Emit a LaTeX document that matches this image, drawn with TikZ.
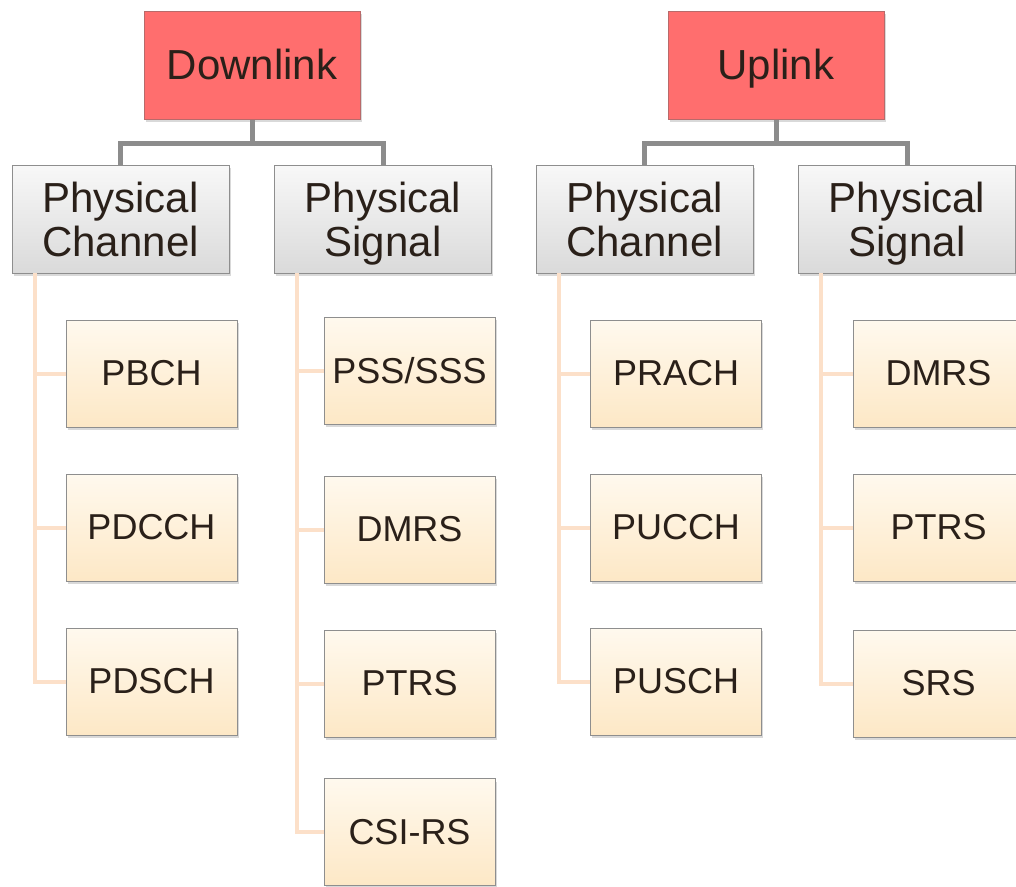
\documentclass[tikz,border=0pt]{standalone}
\usepackage{fontspec}
\setmainfont{Liberation Sans}
\usetikzlibrary{shadows}
\definecolor{txt}{HTML}{2A2019}
\definecolor{redfill}{HTML}{FF6E6E}
\definecolor{redline}{HTML}{B86A6A}
\definecolor{graytop}{HTML}{F8F8F8}
\definecolor{graybot}{HTML}{DADADA}
\definecolor{grayline}{HTML}{8C8C8C}
\definecolor{leaftop}{HTML}{FFF9EE}
\definecolor{leafbot}{HTML}{FDE8C6}
\definecolor{leafline}{HTML}{FCE0C9}
\definecolor{boxline}{HTML}{8E8E8E}
\newcommand{\hdstrut}{\rule{0pt}{39pt}}
\tikzset{
  every node/.style={text=txt},
  boxshadow/.style={drop shadow={shadow xshift=1.5pt, shadow yshift=-3pt, opacity=0.3}},
  rootbox/.style={draw=redline, line width=1pt, fill=redfill, minimum width=216pt, minimum height=108pt, inner sep=0pt,
    font=\fontsize{42}{44}\selectfont, boxshadow,
    execute at begin node={\rule{0pt}{36.8pt}}, execute at end node={\vphantom{p}}},
  midbox/.style={draw=boxline, line width=1pt, top color=graytop, bottom color=graybot, minimum width=217pt, minimum height=108pt, inner sep=0pt,
    align=center, font=\fontsize{42}{44}\selectfont, boxshadow,
    execute at end node={\vphantom{g}}},
  leafbox/.style={draw=boxline, line width=1pt, top color=leaftop, bottom color=leafbot, minimum width=171pt, minimum height=107pt, inner sep=0pt,
    font=\fontsize{36}{40}\selectfont, boxshadow},
  topline/.style={draw=grayline, line width=5pt},
  branch/.style={draw=leafline, line width=4pt},
}
\begin{document}
\begin{tikzpicture}[x=1pt,y=-1pt]
\useasboundingbox (0,0) rectangle (1016,886);
\clip (0,0) rectangle (1016,886);
% top-level
\node[rootbox] (dl) at (252,65) {Downlink};
\node[rootbox] (ul) at (776,65) {Uplink};
% second level
\node[midbox] (dlc) at (120.5,219) {\hdstrut Physical\\Channel};
\node[midbox] (dls) at (383,219) {\hdstrut Physical\\Signal};
\node[midbox] (ulc) at (644.5,219) {\hdstrut Physical\\Channel};
\node[midbox] (uls) at (907,219) {\hdstrut Physical\\Signal};
% leaves
\node[leafbox] (pbch) at (151.5,373.5) {PBCH};
\node[leafbox] (pdcch) at (151.5,527.5) {PDCCH};
\node[leafbox] (pdsch) at (151.5,681.5) {PDSCH};
\node[leafbox] (pss) at (409.5,370.5) {PSS/SSS};
\node[leafbox] (dldmrs) at (409.5,529.5) {DMRS};
\node[leafbox] (dlptrs) at (409.5,683.5) {PTRS};
\node[leafbox] (csirs) at (409.5,832) {CSI-RS};
\node[leafbox] (prach) at (676,373.5) {PRACH};
\node[leafbox] (pucch) at (676,527.5) {PUCCH};
\node[leafbox] (pusch) at (676,681.5) {PUSCH};
\node[leafbox] (uldmrs) at (938.5,373.5) {DMRS};
\node[leafbox] (ulptrs) at (938.5,527.5) {PTRS};
\node[leafbox] (srs) at (938.5,683.5) {SRS};
% branch roots
\coordinate (dlcr) at (35,273);
\coordinate (dlsr) at (297,273);
\coordinate (ulcr) at (559,273);
\coordinate (ulsr) at (821,273);
% connectors
\draw[topline] (dl.south) -- ++(0,24) -| (dlc.north);
\draw[topline] (dl.south) -- ++(0,24) -| (dls.north);
\draw[topline] (ul.south) -- ++(0,24) -| (ulc.north);
\draw[topline] (ul.south) -- ++(0,24) -| (uls.north);
\foreach \c in {pbch,pdcch,pdsch} \draw[branch] (dlcr) |- (\c.west);
\foreach \c in {pss,dldmrs,dlptrs,csirs} \draw[branch] (dlsr) |- (\c.west);
\foreach \c in {prach,pucch,pusch} \draw[branch] (ulcr) |- (\c.west);
\foreach \c in {uldmrs,ulptrs,srs} \draw[branch] (ulsr) |- (\c.west);
\end{tikzpicture}
\end{document}
